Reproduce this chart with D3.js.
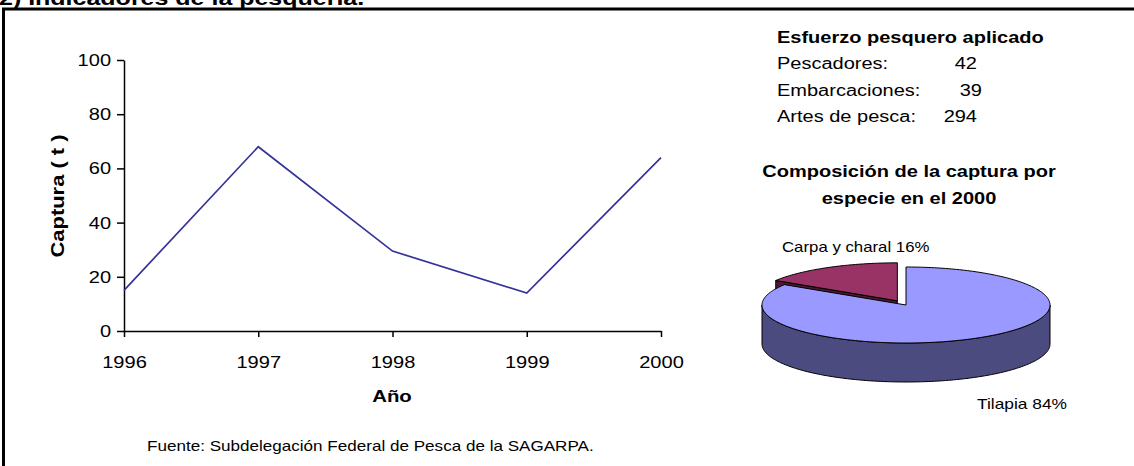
<!DOCTYPE html>
<html>
<head>
<meta charset="utf-8">
<script src="https://cdn.jsdelivr.net/npm/d3@7"></script>
<style>
  html, body { margin: 0; padding: 0; background: #fff; }
  svg { display: block; font-family: "Liberation Sans", Arial, sans-serif; }
</style>
</head>
<body>
<svg id="chart" width="1134" height="466"></svg>
<script>
// Captura anual (toneladas)
const years = [1996, 1997, 1998, 1999, 2000];
const capture = [15, 68, 29.5, 14, 64];
const yTicks = [0, 20, 40, 60, 80, 100];

// Esfuerzo pesquero
const effortLabels = ["Pescadores:", "Embarcaciones:", "Artes de pesca:"];
const effortValues = ["42", "39", "294"];

// Composición de la captura por especie, 2000
const species = ["Tilapia", "Carpa y charal"];
const speciesShare = [84, 16];
const speciesTop = ["#9999ff", "#993366"];
const speciesSide = ["#4b4b7f", "#4d1a33"];

const SX = 1.25; // horizontal text stretch
const svg = d3.select("#chart");

function label(x, y, str, o = {}) {
  const g = svg.append("g")
    .attr("transform", `translate(${x},${y})${o.rotate ? " rotate(" + o.rotate + ")" : ""} scale(${o.sx || SX},1)`);
  g.append("text")
    .attr("text-anchor", o.anchor || "start")
    .attr("font-size", o.size || 16)
    .attr("font-weight", o.bold ? "bold" : "normal")
    .attr("fill", "#000")
    .text(str);
  return g;
}

// Frame and heading
svg.append("line").attr("x1", 2).attr("x2", 1134).attr("y1", 9).attr("y2", 9)
  .attr("stroke", "#000").attr("stroke-width", 3);
svg.append("line").attr("x1", 3.5).attr("x2", 3.5).attr("y1", 8).attr("y2", 466)
  .attr("stroke", "#000").attr("stroke-width", 3);
label(-1, 5, "2) Indicadores de la pesquería.", { bold: true, size: 20 });

// ---- Line chart ----
const x = d3.scaleLinear().domain([1996, 2000]).range([124, 661]);
const y = d3.scaleLinear().domain([0, 100]).range([331, 60]);

const yAxis = svg.append("g").attr("transform", `translate(${x(1996)},0)`)
  .call(d3.axisLeft(y).tickValues(yTicks).tickSizeInner(7).tickSizeOuter(0).tickPadding(4));
const xAxis = svg.append("g").attr("transform", `translate(0,${y(0)})`)
  .call(d3.axisBottom(x).tickValues(years).tickFormat(d3.format("d")).tickSizeInner(6).tickSizeOuter(0).tickPadding(19));

[yAxis, xAxis].forEach(a => {
  a.selectAll("path, line").attr("stroke", "#000").attr("stroke-width", 1.5);
  a.selectAll("text").attr("font-size", 17).attr("fill", "#000")
    .attr("font-family", "'Liberation Sans', Arial, sans-serif")
    .attr("transform", `scale(1.18,1)`);
});
xAxis.selectAll("text").attr("x", 0);

svg.append("path")
  .datum(years.map((yr, i) => [yr, capture[i]]))
  .attr("fill", "none")
  .attr("stroke", "#333399")
  .attr("stroke-width", 1.7)
  .attr("d", d3.line().x(d => x(d[0])).y(d => y(d[1])));

label(64, 196, "Captura ( t )", { bold: true, size: 18, rotate: -90, anchor: "middle", sx: 1.22 });
label(392, 402, "Año", { bold: true, size: 17, anchor: "middle", sx: 1.2 });
label(147, 451, "Fuente: Subdelegación Federal de Pesca de la SAGARPA.", { size: 14, sx: 1.22 });

// ---- Esfuerzo pesquero ----
label(777, 43, "Esfuerzo pesquero aplicado", { bold: true });
const rowY = d3.scalePoint().domain(effortLabels).range([69, 122]);
effortLabels.forEach((t, i) => label(777, rowY(t), t));
const valueRight = [977, 982, 977];
effortValues.forEach((v, i) => label(valueRight[i], rowY(effortLabels[i]), v, { anchor: "end" }));

label(909, 177, "Composición de la captura por", { bold: true, anchor: "middle" });
label(909, 204, "especie en el 2000", { bold: true, anchor: "middle" });

// ---- 3D pie ----
const cx = 906, cy = 305, rx = 144, ry = 38, depth = 39, explode = 18;
const arcs = d3.pie().sort(null).value(d => d)(speciesShare);

function pt(a, ox, oy, dz = 0) {
  return [cx + ox + rx * Math.sin(a), cy + oy - ry * Math.cos(a) + dz];
}
function sample(a0, a1, ox, oy, dz = 0) {
  const n = Math.max(2, Math.ceil((a1 - a0) / 0.02));
  return d3.range(n + 1).map(i => pt(a0 + (a1 - a0) * i / n, ox, oy, dz));
}
const poly = pts => "M" + pts.map(p => p.join(",")).join("L") + "Z";

const slices = arcs.map((a, i) => {
  const mid = (a.startAngle + a.endAngle) / 2;
  const off = i === 1 ? explode : 0;
  return {
    a, i,
    ox: off * Math.sin(mid),
    oy: -off * Math.cos(mid) * ry / rx
  };
});

const pieG = svg.append("g").attr("stroke", "#000").attr("stroke-width", 1).attr("stroke-linejoin", "round");

// back slice: radial cut face, then top
const back = slices[1];
{
  const c = [cx + back.ox, cy + back.oy];
  const e = pt(back.a.startAngle, back.ox, back.oy);
  pieG.append("path").attr("fill", speciesSide[1])
    .attr("d", poly([c, e, [e[0], e[1] + depth], [c[0], c[1] + depth]]));
  pieG.append("path").attr("fill", speciesTop[1])
    .attr("d", poly([c, ...sample(back.a.startAngle, back.a.endAngle, back.ox, back.oy)]));
}

// front slice: outer wall then top
const front = slices[0];
{
  const s0 = Math.max(front.a.startAngle, Math.PI / 2);
  const s1 = Math.min(front.a.endAngle, 3 * Math.PI / 2);
  const topEdge = sample(s0, s1, front.ox, front.oy);
  const botEdge = sample(s0, s1, front.ox, front.oy, depth).reverse();
  pieG.append("path").attr("fill", speciesSide[0]).attr("d", poly([...topEdge, ...botEdge]));
  const c = [cx + front.ox, cy + front.oy];
  pieG.append("path").attr("fill", speciesTop[0])
    .attr("d", poly([c, ...sample(front.a.startAngle, front.a.endAngle, front.ox, front.oy)]));
}

label(782, 252, `${species[1]} ${speciesShare[1]}%`, { size: 14, sx: 1.2 });
label(977, 409, `${species[0]} ${speciesShare[0]}%`, { size: 14, sx: 1.24 });
</script>
</body>
</html>
